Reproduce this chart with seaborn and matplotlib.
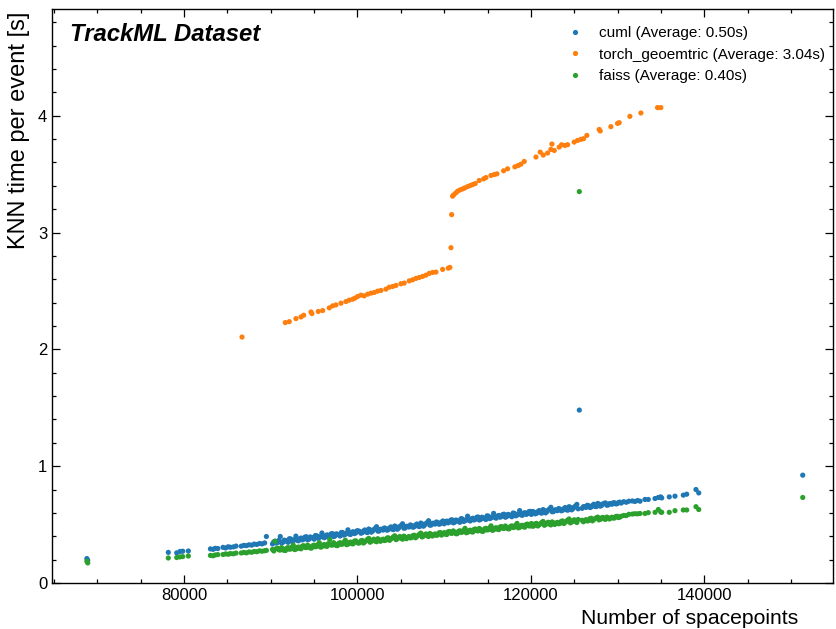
import matplotlib
matplotlib.use("Agg")
import matplotlib.pyplot as plt
from matplotlib.ticker import MultipleLocator
import pandas as pd
import seaborn as sns

methods = ["cuml", "torch_geoemtric", "faiss"]
averages = [0.50, 3.04, 0.40]
colors = ["#1f77b4", "#ff7f0e", "#2ca02c"]

# events shared by cuml and faiss
event_spacepoints = [
    68800, 68900, 78190, 79160, 79540, 79850, 80500,
    83050, 83350, 83600, 83900, 84500, 84800, 85100, 85350, 85700, 86000,
    86600, 86900, 87200, 87500, 87800, 88100, 88400, 88700, 89000, 89300, 89500,
    90200, 90500, 90800, 91100, 91400, 91700, 92000, 92300, 92600, 92900,
    93200, 93500, 93800, 94100, 94400, 94700, 95000, 95300, 95600, 95900,
    96200, 96500, 96800, 97100, 97400, 97700, 98000, 98300, 98600, 98900,
    99200, 99500, 99800,
    100100, 100400, 100700, 101000, 101300, 101600, 101900, 102200, 102500, 102800,
    103100, 103400, 103700, 104000, 104300, 104600, 104900, 105200, 105500, 105800,
    106100, 106400, 106700, 107000, 107300, 107600, 107900, 108200, 108500, 108800,
    109100, 109400, 109700,
    110000, 110300, 110600, 110900, 111200, 111500, 111800, 112100, 112400, 112700,
    113000, 113300, 113600, 113900, 114200, 114500, 114800, 115100, 115400, 115700,
    116000, 116300, 116600, 116900, 117200, 117500, 117800, 118100, 118400, 118700,
    119000, 119300, 119600, 119900,
    120200, 120500, 120800, 121100, 121400, 121700, 122000, 122300, 122600, 122900,
    123200, 123500, 123800, 124100, 124400, 124700, 125000, 125300, 125900, 126200,
    126500, 126800, 127100, 127400, 127700, 128000, 128300, 128600, 128900, 129200,
    129500, 129800, 130100, 130400, 130700, 131000, 131300,
    131700, 132000, 132300, 132580, 133150, 133530, 134310, 134690, 134960, 135080,
    135950, 136610, 137570, 137960, 139030, 139350,
    125580, 151340,
    90350, 90650, 90950, 91250, 91550, 91850, 92150, 92450, 92750, 93050,
    93350, 93650, 93950, 94250, 94550, 94850, 95150, 95450, 95750, 96050,
    96350, 96650, 96950, 97250, 97550, 97850, 98150, 98450, 98750, 99050,
    99350, 99650, 99950,
    100250, 100550, 100850, 101150, 101450, 101750, 102050, 102350, 102650, 102950,
    103250, 103550, 103850, 104150, 104450, 104750, 105050, 105350, 105650, 105950,
    106250, 106550, 106850, 107150, 107450, 107750, 108050, 108350, 108650, 108950,
    109250, 109550, 109850,
    110150, 110450, 110750, 111050, 111350, 111650, 111950, 112250, 112550, 112850,
    113150, 113450, 113750, 114050, 114350, 114650, 114950, 115250, 115550, 115850,
    116150, 116450, 116750, 117050, 117350, 117650, 117950, 118250, 118550, 118850,
    119150, 119450, 119750, 120050,
    120350, 120650, 120950, 121250, 121550, 121850, 122150, 122450, 122750, 123050,
    123350, 123650, 123950, 124250, 124550, 124850, 125150, 125450, 126050, 126350,
    126650, 126950, 127250, 127550, 127850, 128150, 128450, 128750, 129050, 129350,
    129650, 129950, 130250,
]

cuml_time = [
    0.209, 0.194, 0.262, 0.258, 0.270, 0.272, 0.274,
    0.292, 0.288, 0.297, 0.295, 0.305, 0.300, 0.310, 0.306, 0.309, 0.316,
    0.315, 0.322, 0.320, 0.327, 0.324, 0.333, 0.330, 0.338, 0.335, 0.343, 0.398,
    0.334, 0.358, 0.348, 0.398, 0.348, 0.363, 0.348, 0.377, 0.362, 0.401,
    0.361, 0.385, 0.375, 0.396, 0.375, 0.390, 0.375, 0.404, 0.389, 0.428,
    0.388, 0.412, 0.402, 0.423, 0.402, 0.417, 0.402, 0.431, 0.416, 0.455,
    0.415, 0.439, 0.429,
    0.446, 0.426, 0.445, 0.436, 0.462, 0.435, 0.458, 0.482, 0.445, 0.460,
    0.471, 0.452, 0.470, 0.461, 0.488, 0.460, 0.484, 0.507, 0.471, 0.485,
    0.497, 0.477, 0.496, 0.487, 0.513, 0.486, 0.509, 0.533, 0.496, 0.511,
    0.522, 0.503, 0.521,
    0.507, 0.530, 0.521, 0.541, 0.520, 0.535, 0.519, 0.548, 0.533, 0.572,
    0.531, 0.554, 0.545, 0.565, 0.544, 0.559, 0.543, 0.572, 0.557, 0.596,
    0.555, 0.578, 0.569, 0.589, 0.568, 0.583, 0.567, 0.596, 0.581, 0.620,
    0.579, 0.602, 0.593, 0.613,
    0.612, 0.592, 0.611, 0.601, 0.628, 0.600, 0.624, 0.648, 0.611, 0.626,
    0.637, 0.618, 0.636, 0.627, 0.653, 0.626, 0.650, 0.673, 0.639, 0.654,
    0.665, 0.646, 0.664, 0.655, 0.681, 0.658, 0.676, 0.685, 0.668, 0.679,
    0.687, 0.677, 0.689, 0.684, 0.696, 0.691, 0.700,
    0.702, 0.698, 0.706, 0.700, 0.715, 0.715, 0.723, 0.732, 0.737, 0.728,
    0.737, 0.743, 0.752, 0.760, 0.800, 0.771,
    1.480, 0.923,
    0.352, 0.342, 0.366, 0.343, 0.367, 0.357, 0.379, 0.356, 0.372, 0.365,
    0.379, 0.369, 0.393, 0.370, 0.394, 0.384, 0.406, 0.383, 0.399, 0.392,
    0.406, 0.396, 0.420, 0.397, 0.421, 0.411, 0.433, 0.410, 0.426, 0.419,
    0.433, 0.423, 0.447,
    0.441, 0.431, 0.454, 0.432, 0.455, 0.445, 0.467, 0.444, 0.460, 0.453,
    0.467, 0.456, 0.480, 0.457, 0.481, 0.470, 0.493, 0.469, 0.485, 0.479,
    0.492, 0.482, 0.505, 0.483, 0.506, 0.496, 0.518, 0.495, 0.511, 0.504,
    0.518, 0.507, 0.531,
    0.525, 0.515, 0.538, 0.515, 0.539, 0.528, 0.551, 0.527, 0.542, 0.536,
    0.549, 0.539, 0.562, 0.539, 0.563, 0.552, 0.575, 0.551, 0.566, 0.560,
    0.573, 0.563, 0.586, 0.563, 0.587, 0.576, 0.599, 0.575, 0.590, 0.584,
    0.597, 0.587, 0.610, 0.587,
    0.607, 0.597, 0.620, 0.598, 0.621, 0.611, 0.633, 0.610, 0.625, 0.619,
    0.632, 0.622, 0.646, 0.623, 0.647, 0.636, 0.659, 0.635, 0.653, 0.647,
    0.661, 0.650, 0.674, 0.654, 0.675, 0.664, 0.682, 0.666, 0.679, 0.674,
    0.686, 0.679, 0.692,
]

faiss_time = [
    0.186, 0.172, 0.214, 0.218, 0.223, 0.226, 0.231,
    0.236, 0.233, 0.240, 0.243, 0.244, 0.249, 0.246, 0.252, 0.250, 0.256,
    0.257, 0.262, 0.258, 0.266, 0.263, 0.270, 0.268, 0.275, 0.272, 0.276, 0.279,
    0.287, 0.357, 0.298, 0.282, 0.292, 0.278, 0.303, 0.292, 0.324, 0.290,
    0.308, 0.293, 0.319, 0.303, 0.313, 0.299, 0.324, 0.313, 0.345, 0.311,
    0.329, 0.314, 0.372, 0.324, 0.334, 0.320, 0.345, 0.334, 0.366, 0.332,
    0.350, 0.335, 0.361,
    0.341, 0.361, 0.342, 0.362, 0.382, 0.356, 0.375, 0.353, 0.370, 0.368,
    0.363, 0.384, 0.365, 0.384, 0.404, 0.379, 0.398, 0.375, 0.392, 0.391,
    0.386, 0.406, 0.387, 0.407, 0.427, 0.401, 0.420, 0.398, 0.415, 0.413,
    0.408, 0.429, 0.410,
    0.431, 0.415, 0.441, 0.425, 0.435, 0.422, 0.447, 0.436, 0.468, 0.434,
    0.452, 0.436, 0.462, 0.446, 0.456, 0.443, 0.468, 0.457, 0.489, 0.455,
    0.473, 0.457, 0.483, 0.467, 0.477, 0.464, 0.489, 0.478, 0.510, 0.476,
    0.494, 0.478, 0.504, 0.488,
    0.486, 0.507, 0.488, 0.507, 0.527, 0.501, 0.520, 0.497, 0.514, 0.512,
    0.507, 0.528, 0.509, 0.528, 0.548, 0.522, 0.541, 0.518, 0.537, 0.535,
    0.531, 0.551, 0.532, 0.551, 0.564, 0.545, 0.561, 0.545, 0.558, 0.556,
    0.556, 0.569, 0.560, 0.571, 0.578, 0.577, 0.588,
    0.590, 0.593, 0.592, 0.595, 0.595, 0.602, 0.605, 0.629, 0.608, 0.605,
    0.605, 0.619, 0.625, 0.625, 0.653, 0.629,
    3.350, 0.732,
    0.274, 0.295, 0.284, 0.303, 0.279, 0.298, 0.289, 0.308, 0.286, 0.304,
    0.295, 0.316, 0.305, 0.324, 0.300, 0.319, 0.310, 0.329, 0.307, 0.325,
    0.316, 0.337, 0.326, 0.345, 0.321, 0.340, 0.331, 0.350, 0.328, 0.346,
    0.337, 0.358, 0.347,
    0.344, 0.364, 0.353, 0.373, 0.349, 0.368, 0.359, 0.379, 0.357, 0.375,
    0.366, 0.387, 0.376, 0.395, 0.371, 0.391, 0.382, 0.401, 0.379, 0.398,
    0.389, 0.409, 0.398, 0.418, 0.394, 0.413, 0.404, 0.424, 0.402, 0.420,
    0.411, 0.432, 0.421,
    0.418, 0.438, 0.427, 0.446, 0.422, 0.442, 0.433, 0.452, 0.430, 0.448,
    0.439, 0.459, 0.448, 0.467, 0.443, 0.463, 0.454, 0.473, 0.451, 0.469,
    0.460, 0.480, 0.469, 0.488, 0.464, 0.484, 0.475, 0.494, 0.472, 0.490,
    0.481, 0.501, 0.490, 0.509,
    0.489, 0.510, 0.499, 0.518, 0.494, 0.513, 0.504, 0.523, 0.501, 0.519,
    0.510, 0.531, 0.520, 0.539, 0.515, 0.534, 0.525, 0.544, 0.524, 0.542,
    0.534, 0.554, 0.543, 0.558, 0.540, 0.557, 0.548, 0.564, 0.548, 0.563,
    0.557, 0.571, 0.564,
]

torch_spacepoints = [
    86690, 91680, 92140, 92910, 93490, 93800, 94640, 94750, 95480, 95990,
    96750, 97140, 97520, 98100, 98670, 99050, 99450, 99710, 100020, 100400,
    100780, 101180, 101560, 101940, 102330, 102710, 103280, 103670, 104060, 104440,
    105010, 105390, 105970, 106360, 106740, 107120, 107510, 107900, 108280, 108670,
    109050, 109820, 110470, 110660, 110780, 110860, 110970,
    111090, 111350, 111550, 111850, 112130, 112390, 112700, 113000, 113280, 113580,
    114040, 114550, 114810, 115390, 115770, 116080, 116850, 117310, 118150, 118530,
    118850, 119230, 120580, 121070, 121420, 121920, 122300, 122420, 122690, 123260,
    123540, 123920, 124230, 124990, 125380, 125760, 126070, 126450, 127870, 127990,
    129220, 129990, 130180, 131410, 132680, 134600, 134980,
]

torch_time = [
    2.105, 2.229, 2.237, 2.263, 2.277, 2.292, 2.320, 2.306, 2.324, 2.332,
    2.355, 2.372, 2.380, 2.395, 2.409, 2.421, 2.429, 2.438, 2.452, 2.464,
    2.458, 2.472, 2.481, 2.487, 2.498, 2.504, 2.515, 2.532, 2.538, 2.547,
    2.561, 2.567, 2.586, 2.595, 2.607, 2.615, 2.624, 2.635, 2.650, 2.658,
    2.661, 2.684, 2.695, 2.701, 2.870, 3.153, 3.311,
    3.322, 3.339, 3.354, 3.365, 3.373, 3.382, 3.393, 3.402, 3.410, 3.419,
    3.445, 3.459, 3.470, 3.488, 3.496, 3.502, 3.528, 3.545, 3.562, 3.573,
    3.585, 3.608, 3.646, 3.688, 3.663, 3.680, 3.711, 3.757, 3.702, 3.731,
    3.751, 3.745, 3.751, 3.774, 3.788, 3.797, 3.803, 3.831, 3.882, 3.869,
    3.906, 3.934, 3.940, 3.994, 4.023, 4.069, 4.069,
]

df = pd.concat([
    pd.DataFrame({"spacepoints": event_spacepoints, "time": cuml_time, "method": methods[0]}),
    pd.DataFrame({"spacepoints": torch_spacepoints, "time": torch_time, "method": methods[1]}),
    pd.DataFrame({"spacepoints": event_spacepoints, "time": faiss_time, "method": methods[2]}),
], ignore_index=True)

sns.set_style("ticks")
plt.rcParams["font.family"] = ["Liberation Sans", "DejaVu Sans"]
plt.rcParams["text.color"] = "black"
plt.rcParams["axes.labelcolor"] = "black"
plt.rcParams["xtick.color"] = "black"
plt.rcParams["ytick.color"] = "black"
plt.rcParams["axes.edgecolor"] = "black"

fig = plt.figure(figsize=(8.36, 6.29), dpi=100)
ax = fig.add_axes([52 / 836, 1 - 583 / 629, 781 / 836, 574 / 629])

sns.scatterplot(data=df, x="spacepoints", y="time", hue="method", hue_order=methods,
                palette=colors, s=14, linewidth=0, ax=ax)

ax.set_xlim(64780, 154830)
ax.set_ylim(0, 4.913)
ax.xaxis.set_major_locator(MultipleLocator(20000))
ax.xaxis.set_minor_locator(MultipleLocator(5000))
ax.yaxis.set_major_locator(MultipleLocator(1))
ax.yaxis.set_minor_locator(MultipleLocator(0.2))
ax.tick_params(which="both", direction="in", top=True, right=True, labelsize=12,
               width=0.9, color="black", labelcolor="black")
ax.tick_params(which="major", length=5.5)
ax.tick_params(which="minor", length=3.2)
for sp in ax.spines.values():
    sp.set_linewidth(1.0)
    sp.set_color("black")

ax.set_xlabel("Number of spacepoints", fontsize=15.2, color="black")
ax.set_ylabel("KNN time per event [s]", fontsize=17, color="black")
ax.xaxis.label.set_ha("right")
ax.xaxis.label.set_va("center")
ax.xaxis.set_label_coords((798 - 52) / 781, (583 - 618) / 574)
ax.yaxis.label.set_ha("right")
ax.yaxis.label.set_va("center")
ax.yaxis.set_label_coords((19 - 52) / 781, (583 - 12) / 574)

ax.text(0.023, 0.955, "TrackML Dataset", transform=ax.transAxes, fontsize=17.2,
        fontweight="bold", fontstyle="italic", va="center", ha="left", color="black")

handles, _ = ax.get_legend_handles_labels()
labels = [f"{m} (Average: {a:.2f}s)" for m, a in zip(methods, averages)]
leg = ax.legend(handles, labels, loc="upper right", bbox_to_anchor=(1 - 8 / 781, 1 - 17 / 574),
                frameon=False, fontsize=11, borderpad=0, borderaxespad=0,
                handlelength=1.2, handletextpad=1.0, labelspacing=0.5, markerscale=1.0)
for t in leg.get_texts():
    t.set_color("black")

fig.savefig("out.png", dpi=100)
